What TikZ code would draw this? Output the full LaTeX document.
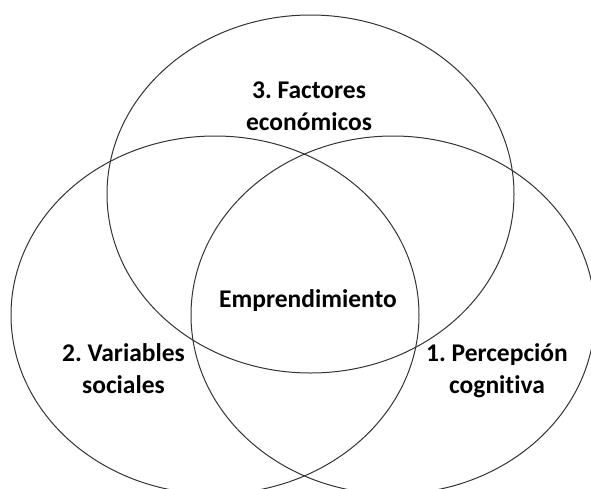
\documentclass[tikz,border=0pt]{standalone}
\usepackage{fontspec}
\setmainfont{Carlito}[Ligatures=NoCommon]
\frenchspacing
\begin{document}
\begin{tikzpicture}[x=1pt,y=-1pt,
  setring/.style={draw=black!80,line width=1pt},
  lbl/.style={font=\bfseries\fontsize{25.5}{32}\selectfont,align=center,anchor=base,inner sep=0pt}]
\useasboundingbox (0,0) rectangle (591,488);
\draw[setring] (310.5,194) ellipse [x radius=203.5, y radius=179];
\draw[setring] (215,315) ellipse [x radius=204, y radius=179];
\draw[setring] (393,315) ellipse [x radius=202, y radius=179];
\node[lbl] (eco) at (309,130.5) {3. Factores\\económicos};
\node[lbl] (emp) at (308,307) {Emprendimiento};
\node[lbl] (soc) at (123.5,393.5) {2. Variables\\sociales};
\node[lbl] (cog) at (497,393.5) {1. Percepción\\cognitiva};
\end{tikzpicture}
\end{document}
